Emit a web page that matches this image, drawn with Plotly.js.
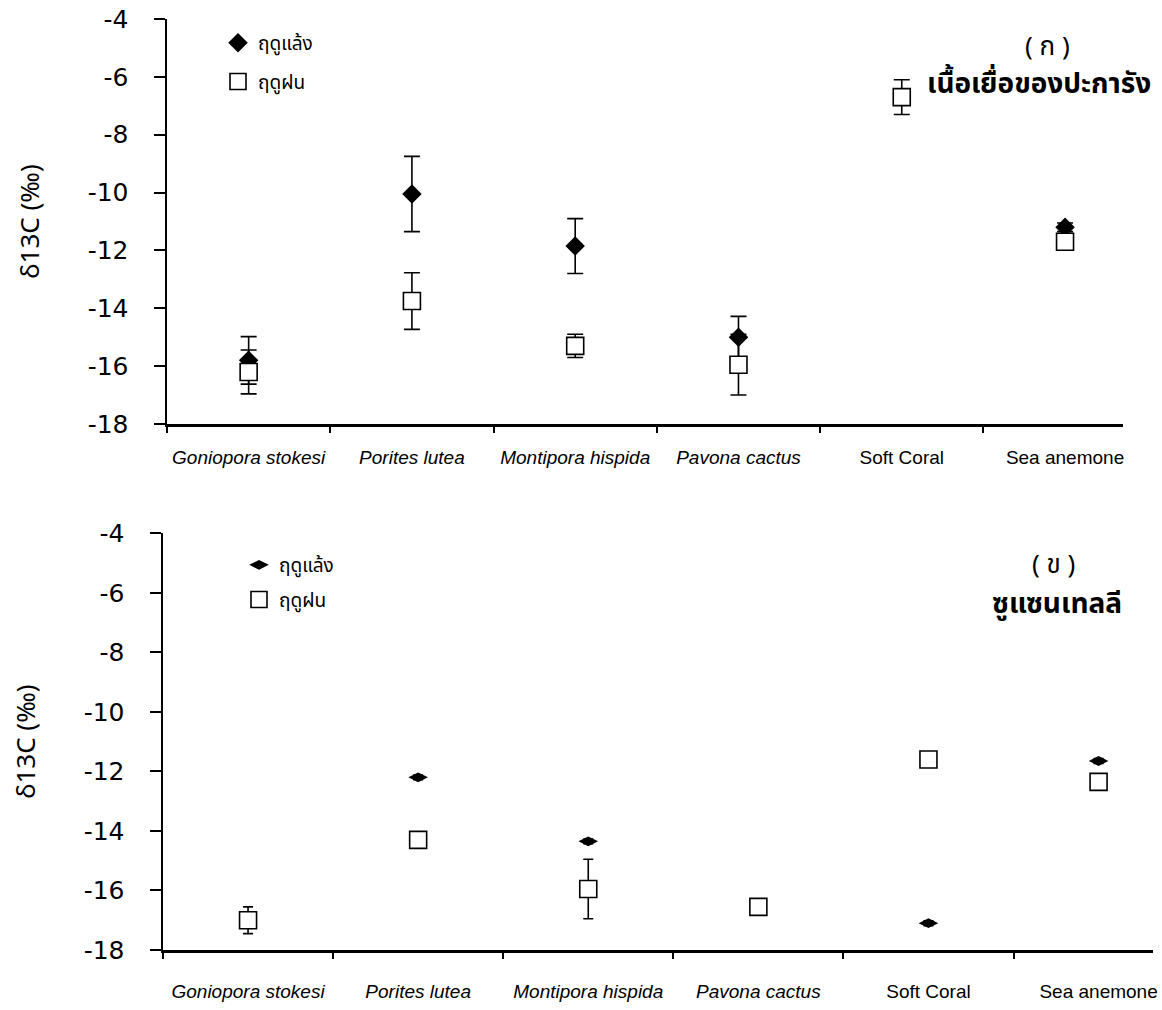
<!DOCTYPE html>
<html>
<head>
<meta charset="utf-8">
<script src="https://cdn.plot.ly/plotly-3.0.1.min.js"></script>
<style>html,body{margin:0;padding:0;background:#fff;}#chart{width:1162px;height:1010px;}</style>
</head>
<body>
<div id="chart"></div>
<script>
// ---- data ----
const categories = ['Goniopora stokesi', 'Porites lutea', 'Montipora hispida', 'Pavona cactus', 'Soft Coral', 'Sea anemone'];
const tickLabels = ['<i>Goniopora stokesi</i>', '<i>Porites lutea</i>', '<i>Montipora hispida</i>', '<i>Pavona cactus</i>', 'Soft Coral', 'Sea anemone'];
const seasonNames = ['ฤดูแล้ง', 'ฤดูฝน'];

// (ก) coral tissue
const tissueDry = [-15.8, -10.05, -11.85, -15.0, null, -11.2];
const tissueDryErr = [0.82, 1.3, 0.95, 0.72, 0, 0.15];
const tissueWet = [-16.2, -13.75, -15.3, -15.95, -6.7, -11.7];
const tissueWetErr = [0.76, 0.98, 0.4, 1.05, 0.6, 0.12];

// (ข) zooxanthellae
const zooxDry = [null, -12.2, -14.35, null, -17.1, -11.65];
const zooxDryErr = [0, 0.08, 0.08, 0, 0.08, 0.08];
const zooxWet = [-17.0, -14.3, -15.95, -16.55, -11.6, -12.35];
const zooxWetErr = [0.45, 0.15, 1.0, 0.12, 0.08, 0.2];

const yTicks = [-18, -16, -14, -12, -10, -8, -6, -4];
const yTickLabels = ['-18', '-16', '-14', '-12', '-10', '-8', '-6', '-4'];

// ---- traces ----
function errBar(arr, w) {
  return {type: 'data', array: arr, visible: true, color: '#000', thickness: 1.6, width: w};
}
const traces = [
  {x: categories, y: tissueDry, name: seasonNames[0], type: 'scatter', mode: 'markers', xaxis: 'x', yaxis: 'y',
   legend: 'legend', legendgroup: 'a1',
   marker: {symbol: 'diamond', size: 15, color: '#000'}, error_y: errBar(tissueDryErr, 8)},
  {x: categories, y: tissueWet, name: seasonNames[1], type: 'scatter', mode: 'markers', xaxis: 'x', yaxis: 'y',
   legend: 'legend', legendgroup: 'a2',
   marker: {symbol: 'square', size: 17, color: '#fff', line: {color: '#000', width: 1.6}}, error_y: errBar(tissueWetErr, 8)},
  {x: categories, y: zooxDry, name: seasonNames[0], type: 'scatter', mode: 'markers', xaxis: 'x2', yaxis: 'y2',
   legend: 'legend2', legendgroup: 'b1',
   marker: {symbol: 'diamond-wide', size: 14, color: '#000'}, error_y: errBar(zooxDryErr, 5)},
  {x: categories, y: zooxWet, name: seasonNames[1], type: 'scatter', mode: 'markers', xaxis: 'x2', yaxis: 'y2',
   legend: 'legend2', legendgroup: 'b2',
   marker: {symbol: 'square', size: 17, color: '#fff', line: {color: '#000', width: 1.6}}, error_y: errBar(zooxWetErr, 5)}
];

const W = 1162, H = 1010;
const tickFont = {family: 'DejaVu Sans, sans-serif', size: 25, color: '#000'};
const catFont = {family: 'Liberation Sans, Arial, sans-serif', size: 19, color: '#000'};
const thaiFont = 'Noto Sans, Noto Sans Thai, Loma, sans-serif';

function yAxis(dom) {
  return {
    domain: dom, range: [-18, -4], tickvals: yTicks, ticktext: yTickLabels, ticks: 'outside', ticklen: 11, tickwidth: 2, tickcolor: '#000',
    showline: true, linecolor: '#000', linewidth: 2.5, showgrid: false, zeroline: false,
    tickfont: tickFont, ticklabelstandoff: 20,
    title: {text: 'δ13C (‰)', font: {family: 'Noto Sans, sans-serif', size: 26, color: '#000'}, standoff: 41}
  };
}
function xAxis(dom, anchor, rng, standoff) {
  return {
    domain: dom, anchor: anchor, type: 'category', range: rng, tickson: 'boundaries', tickangle: 0,
    ticks: 'outside', ticklen: 6, tickwidth: 2, tickcolor: '#000',
    showline: true, linecolor: '#000', linewidth: 2.5, showgrid: false, zeroline: false,
    tickvals: categories, ticktext: tickLabels, tickfont: catFont, ticklabelstandoff: standoff
  };
}

const layout = {
  width: W, height: H,
  margin: {l: 0, r: 0, t: 0, b: 0},
  paper_bgcolor: '#fff', plot_bgcolor: '#fff',
  showlegend: true,
  xaxis: xAxis([167 / W, 1123 / W], 'y', [-0.5, 5.355], 15),
  yaxis: Object.assign(yAxis([1 - 424 / H, 1 - 19 / H]), {anchor: 'x'}),
  xaxis2: xAxis([163 / W, 1153 / W], 'y2', [-0.5, 5.32], 23),
  yaxis2: Object.assign(yAxis([1 - 950 / H, 1 - 533.3 / H]), {anchor: 'x2'}),
  legend: {x: 218 / W, y: 1 - 24 / H, xanchor: 'left', yanchor: 'top', bgcolor: 'rgba(0,0,0,0)',
           font: {family: thaiFont, size: 19, color: '#000'}, tracegroupgap: 11, itemclick: false},
  legend2: {x: 239 / W, y: 1 - 546 / H, xanchor: 'left', yanchor: 'top', bgcolor: 'rgba(0,0,0,0)',
            font: {family: thaiFont, size: 19, color: '#000'}, tracegroupgap: 7, itemclick: false},
  annotations: [
    {text: '( ก )', xref: 'paper', yref: 'paper', x: 1047 / W, y: 1 - 45 / H, xanchor: 'center', yanchor: 'middle', showarrow: false,
     font: {family: thaiFont, size: 26, color: '#000'}},
    {text: '<b>เนื้อเยื่อของปะการัง</b>', xref: 'paper', yref: 'paper', x: 1153 / W, y: 1 - 82 / H, xanchor: 'right', yanchor: 'middle', showarrow: false,
     font: {family: thaiFont, size: 28, color: '#000'}},
    {text: '( ข )', xref: 'paper', yref: 'paper', x: 1053 / W, y: 1 - 563 / H, xanchor: 'center', yanchor: 'middle', showarrow: false,
     font: {family: thaiFont, size: 26, color: '#000'}},
    {text: '<b>ซูแซนเทลลี</b>', xref: 'paper', yref: 'paper', x: 1124 / W, y: 1 - 602 / H, xanchor: 'right', yanchor: 'middle', showarrow: false,
     font: {family: thaiFont, size: 28, color: '#000'}}
  ]
};

Plotly.newPlot('chart', traces, layout, {displayModeBar: false, staticPlot: true});
</script>
</body>
</html>
